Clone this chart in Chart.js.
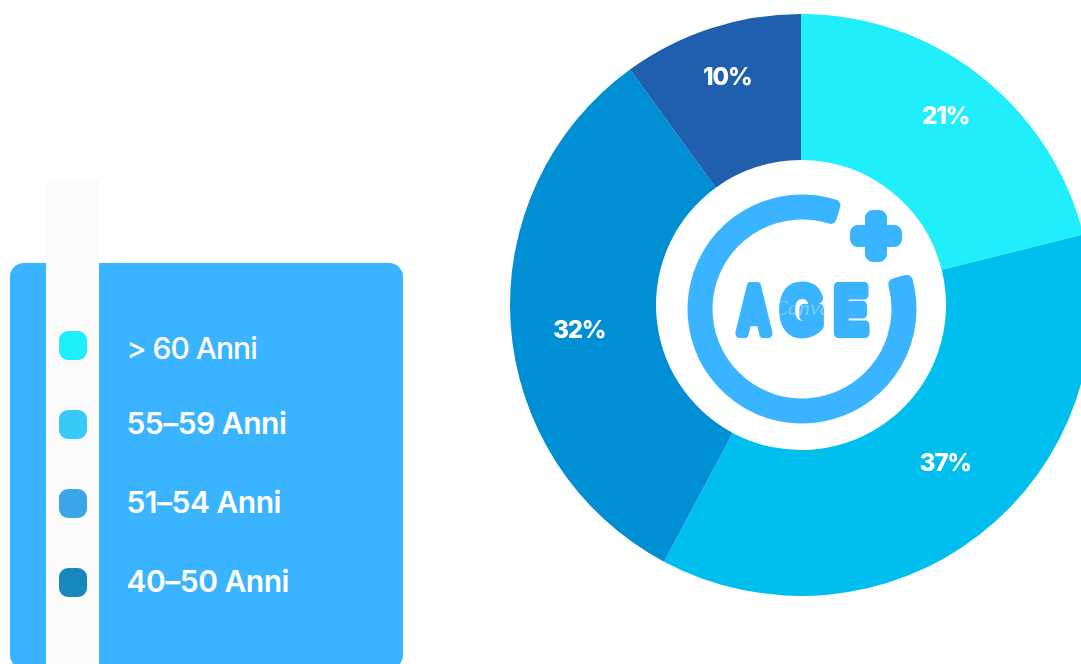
<!DOCTYPE html>
<html>
<head>
<meta charset="utf-8">
<script src="https://cdn.jsdelivr.net/npm/chart.js@4"></script>
<style>
  html, body { margin: 0; width: 1081px; height: 664px; overflow: hidden; background: #fff; }
  #panel { position: absolute; left: 10px; top: 263px; width: 393px; height: 406px; background: #3bb4ff; border-radius: 14px; }
  #strip { position: absolute; left: 46px; top: 180px; width: 53px; height: 484px; background: #fbfbfc; }
  .swatch { position: absolute; left: 59px; width: 28px; height: 29px; border-radius: 9px; }
  .label { position: absolute; left: 126.5px; height: 40px; line-height: 40px; color: #fff; white-space: nowrap;
    font-family: Inter, sans-serif; font-size: 30px; font-weight: 600; letter-spacing: -0.5px; }
  #pie { position: absolute; left: 480px; top: 0; }
</style>
</head>
<body>
<div id="panel"></div>
<div id="strip"></div>
<div id="legend"></div>
<canvas id="pie" width="642" height="610"></canvas>
<script>
const categories = ["> 60 Anni", "55-59 Anni", "51-54 Anni", "40-50 Anni"];
const percentages = [21.1, 36.7, 32.2, 10];
const sliceColors = ["#20effb", "#00bfee", "#008fd3", "#1f5fae"];
const legendColors = ["#1eeffa", "#38c9f8", "#3aa6e8", "#1787bc"];

// legend rows
const legend = document.getElementById("legend");
const labelTops = [328, 403, 482, 561];
categories.forEach((name, i) => {
  const sw = document.createElement("div");
  sw.className = "swatch";
  sw.style.top = 331 + i * 79 + "px";
  sw.style.background = legendColors[i];
  legend.appendChild(sw);
  const txt = document.createElement("div");
  txt.className = "label";
  txt.style.top = labelTops[i] + "px";
  if (i === 0) {
    txt.style.fontWeight = 500;
    txt.style.letterSpacing = "-1px";
  }
  txt.textContent = name.replace("-", "\u2013");
  legend.appendChild(txt);
});

// percent labels on the slices, hand placed in the original so they get a nudge
const labelNudge = [[-2, 0], [10, -13], [-4, 11], [0, 0]];
const sliceLabels = {
  id: "sliceLabels",
  afterDatasetsDraw(chart) {
    const { ctx } = chart;
    ctx.save();
    ctx.fillStyle = "#fff";
    ctx.font = "800 24px Inter, sans-serif";
    ctx.letterSpacing = "-1.2px";
    ctx.textAlign = "center";
    ctx.textBaseline = "middle";
    chart.getDatasetMeta(0).data.forEach((arc, i) => {
      const mid = (arc.startAngle + arc.endAngle) / 2;
      const r = arc.outerRadius * (i === 0 || i === 3 ? 0.82 : 0.75);
      const x = arc.x + Math.cos(mid) * r + labelNudge[i][0];
      const y = arc.y + Math.sin(mid) * r + labelNudge[i][1];
      ctx.fillText(Math.round(percentages[i]) + "%", x, y);
    });
    ctx.restore();
  },
};

// AGE+ icon in the hole
const ageLetters = [
  { ch: "A", dx: -48, sx: 0.68 },
  { ch: "G", dx: 0, sx: 0.82 },
  { ch: "E", dx: 49, sx: 0.76 },
];
const ageIcon = {
  id: "ageIcon",
  afterDraw(chart) {
    const { ctx } = chart;
    const arc = chart.getDatasetMeta(0).data[0];
    const cx = arc.x + 1;
    const cy = arc.y + 4;
    const deg = Math.PI / 180;
    const start = -90 * deg + 75 * deg;
    const end = -90 * deg + 377.4 * deg;
    ctx.save();
    ctx.strokeStyle = "#3bb4ff";
    ctx.fillStyle = "#3bb4ff";
    ctx.lineJoin = "round";
    // ring with a gap at the top right, small rounded ends
    ctx.lineWidth = 12;
    ctx.beginPath();
    ctx.arc(cx, cy, 108.5, start, end);
    ctx.arc(cx, cy, 95.5, end, start, true);
    ctx.closePath();
    ctx.fill();
    ctx.stroke();
    // plus
    ctx.beginPath();
    ctx.roundRect(cx + 63, cy - 99, 22, 52, 8);
    ctx.roundRect(cx + 48, cy - 84, 52, 22, 8);
    ctx.fill();
    // text, one letter at a time so they stay apart
    ctx.textAlign = "center";
    ctx.textBaseline = "alphabetic";
    ctx.font = "700 66px 'Liberation Sans', sans-serif";
    ctx.lineWidth = 10;
    ageLetters.forEach((l) => {
      ctx.save();
      ctx.translate(cx + l.dx, cy + 24);
      ctx.scale(l.sx, 1);
      ctx.strokeText(l.ch, 0, 0);
      ctx.fillText(l.ch, 0, 0);
      ctx.restore();
    });
    // faint watermark
    ctx.textBaseline = "middle";
    ctx.font = "italic 22px 'Liberation Serif', serif";
    ctx.fillStyle = "rgba(255,255,255,0.35)";
    ctx.fillText("Canva", cx, cy);
    ctx.restore();
  },
};

new Chart(document.getElementById("pie"), {
  type: "doughnut",
  data: {
    labels: categories,
    datasets: [{ data: percentages, backgroundColor: sliceColors, borderWidth: 0 }],
  },
  options: {
    responsive: false,
    animation: false,
    cutout: 145,
    layout: { padding: 14 },
    plugins: { legend: { display: false }, tooltip: { enabled: false } },
  },
  plugins: [sliceLabels, ageIcon],
});
</script>
</body>
</html>
